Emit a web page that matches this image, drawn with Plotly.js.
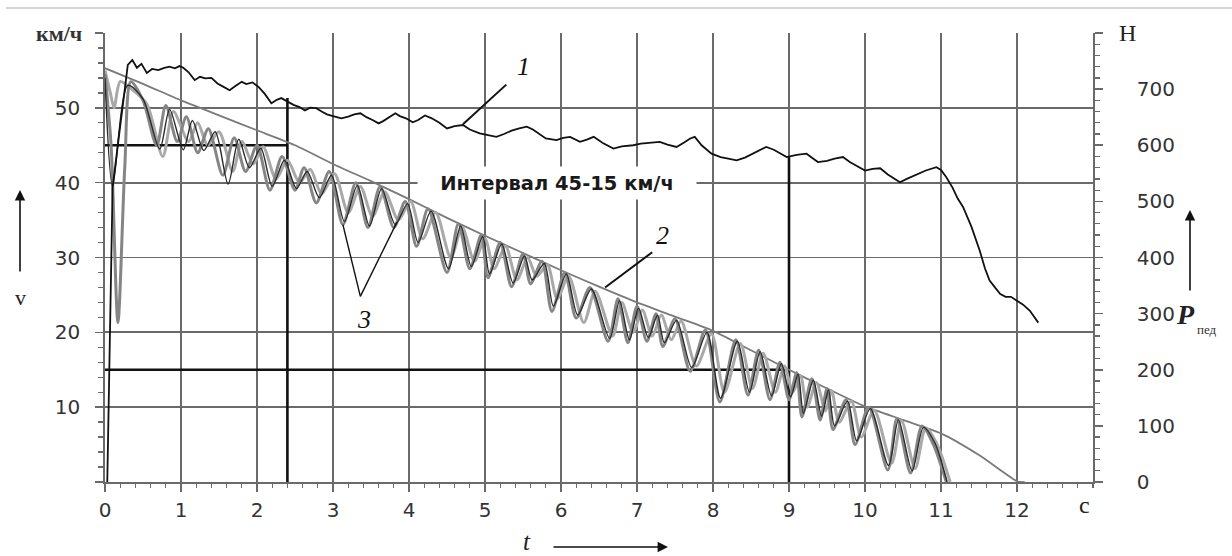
<!DOCTYPE html>
<html>
<head>
<meta charset="utf-8">
<script src="https://cdn.plot.ly/plotly-3.0.1.min.js"></script>
<style>html,body{margin:0;padding:0;background:#fff}#chart{width:1232px;height:556px}</style>
</head>
<body>
<div id="chart"></div>
<script>
// ---------- data ----------
const timeTicks = [0,1,2,3,4,5,6,7,8,9,10,11,12];
const speedTicks = [0,10,20,30,40,50,60];
const speedTickText = ['', '10','20','30','40','50',''];
const forceTicks = [0,100,200,300,400,500,600,700,800];
const forceTickText = ['0','100','200','300','400','500','600','700',''];

// curve 1: pedal force, N  [t, P]
const forceCurve = [[0.03,0],[0.1,525],[0.3,743],[0.36,752],[0.42,738],[0.48,745],[0.55,729],[0.62,736],[0.7,734],[0.78,738],[0.85,740],[0.92,737],[0.98,741],[1.03,738],[1.1,730],[1.18,716],[1.25,722],[1.32,719],[1.4,720],[1.48,710],[1.56,704],[1.64,698],[1.72,706],[1.8,713],[1.86,709],[1.94,712],[2.02,704],[2.1,692],[2.19,675],[2.26,681],[2.32,684],[2.4,678],[2.48,672],[2.56,668],[2.63,662],[2.7,667],[2.78,666],[2.85,660],[2.92,655],[3.0,652],[3.11,648],[3.2,651],[3.28,655],[3.36,657],[3.44,650],[3.52,645],[3.6,639],[3.66,643],[3.74,650],[3.82,657],[3.88,652],[3.96,648],[4.05,641],[4.12,645],[4.21,653],[4.3,648],[4.4,640],[4.5,630],[4.6,634],[4.71,636],[4.8,628],[4.93,621],[5.04,618],[5.15,615],[5.25,620],[5.35,626],[5.45,630],[5.55,633],[5.63,628],[5.72,620],[5.8,612],[5.94,609],[6.03,613],[6.12,615],[6.25,606],[6.34,610],[6.43,615],[6.55,604],[6.69,594],[6.8,598],[6.95,600],[7.05,603],[7.15,604],[7.3,606],[7.4,601],[7.52,597],[7.62,605],[7.7,612],[7.76,615],[7.85,600],[7.98,585],[8.1,579],[8.2,576],[8.31,573],[8.42,578],[8.55,587],[8.7,597],[8.8,592],[8.9,585],[8.97,579],[9.1,583],[9.23,585],[9.38,570],[9.5,572],[9.6,576],[9.71,579],[9.8,570],[9.9,562],[10.0,555],[10.1,558],[10.2,559],[10.3,548],[10.46,534],[10.55,540],[10.65,546],[10.72,550],[10.8,555],[10.94,561],[11.0,556],[11.07,543],[11.15,525],[11.22,505],[11.29,490],[11.4,455],[11.51,412],[11.58,380],[11.64,359],[11.72,345],[11.78,335],[11.85,330],[11.92,330],[12.0,323],[12.08,316],[12.17,305],[12.28,284]];

// curve 2: vehicle speed, km/h  [t, v]
const vehicleSpeed = [[0,55.3],[0.5,53.2],[1,51],[1.5,49],[2,47],[2.5,45],[3,42.5],[3.5,40.2],[4,37.8],[4.5,35.3],[5,32.9],[5.5,30.6],[6,28.3],[6.5,26.1],[7,24],[7.5,22.1],[8,20.2],[8.5,17.6],[9,15],[9.5,12.5],[10,10.1],[10.5,8.3],[11,6.5],[11.5,3.6],[12,0.1],[12.05,0],[12.1,0]];

// curves 3: wheel speeds, km/h  [t, v]
const wheelA = [[0,54.5],[0.08,45],[0.17,21.3],[0.26,42],[0.34,53.5],[0.5,51],[0.68,45],[0.8,50.3],[0.95,45.5],[1.07,48.8],[1.22,44],[1.36,47.2],[1.55,41],[1.7,46],[1.85,41.5],[2.0,45],[2.17,39],[2.33,43.5],[2.5,39],[2.62,42],[2.78,37.3],[2.95,41.5],[3.13,34.4],[3.3,40],[3.46,34],[3.62,39.5],[3.8,34],[3.95,37.5],[4.1,31.5],[4.25,36.5],[4.5,28],[4.65,34.5],[4.8,28.5],[4.95,33],[5.04,27.3],[5.2,32],[5.35,26.1],[5.5,30.5],[5.6,26.5],[5.75,29.5],[5.88,22.8],[6.05,28],[6.2,21.9],[6.38,26],[6.62,18.8],[6.75,24.5],[6.88,18.6],[7.0,23.5],[7.13,18.8],[7.25,22.5],[7.34,18.1],[7.5,21.8],[7.7,14.8],[7.9,20.3],[8.09,10.7],[8.3,19],[8.46,11.6],[8.6,17.6],[8.75,11],[8.88,16],[9.0,11],[9.1,14.6],[9.17,8.7],[9.3,13.8],[9.41,8.3],[9.5,12.5],[9.58,7],[9.75,11],[9.87,5],[10.05,10],[10.3,1.6],[10.42,8.5],[10.6,1.2],[10.75,7.5],[10.9,5],[11.07,0]];
const wheelB = [[0,55],[0.07,52],[0.12,50],[0.2,53.5],[0.35,52.5],[0.55,50.5],[0.76,43.5],[0.9,49.5],[1.1,45.5],[1.22,48],[1.35,45],[1.5,46.8],[1.68,41.5],[1.8,45.5],[1.95,42.5],[2.08,44.8],[2.25,40.5],[2.4,43],[2.56,40],[2.7,41.8],[2.85,38.5],[3.02,41.2],[3.2,36],[3.36,39.5],[3.52,35.5],[3.68,38.8],[3.86,35],[4.02,37.5],[4.18,32.5],[4.35,36],[4.55,30],[4.7,34],[4.86,29.5],[5.0,32.5],[5.12,28.5],[5.27,31.5],[5.42,27],[5.56,30],[5.68,27.5],[5.82,29],[5.95,24.5],[6.1,27.5],[6.3,21.3],[6.45,25.5],[6.68,19.5],[6.8,24],[6.95,20],[7.07,23],[7.2,19.5],[7.32,22.3],[7.45,19],[7.58,21.5],[7.78,15.5],[7.98,19.8],[8.15,12],[8.36,18.5],[8.52,12.5],[8.66,17.2],[8.82,12],[8.94,15.5],[9.05,12],[9.15,14.2],[9.24,10],[9.36,13.3],[9.48,9.5],[9.56,12.2],[9.66,8],[9.82,10.8],[9.95,6],[10.12,9.6],[10.35,2.5],[10.48,8.2],[10.66,1.8],[10.8,7.2],[10.95,5],[11.12,0]];
const wheelC = [[0,54],[0.1,39.5],[0.3,53],[0.5,51.2],[0.72,44.5],[0.85,49.8],[1.03,44.4],[1.15,48.3],[1.3,44.3],[1.45,46.8],[1.62,39.8],[1.76,45.8],[1.9,42],[2.05,44.6],[2.2,39.5],[2.36,43],[2.52,39.2],[2.66,41.5],[2.82,38],[2.98,41],[3.15,34.8],[3.32,39.6],[3.48,34.2],[3.64,39.2],[3.82,34.4],[3.98,37.2],[4.12,32],[4.29,36.2],[4.52,28.5],[4.68,34.2],[4.82,28.8],[4.97,32.8],[5.06,27.8],[5.22,31.8],[5.37,26.6],[5.52,30.2],[5.62,27],[5.78,29.2],[5.9,23.5],[6.07,27.8],[6.22,22.3],[6.4,25.8],[6.64,19.2],[6.77,24.2],[6.9,19],[7.02,23.2],[7.15,19.3],[7.27,22.3],[7.36,18.6],[7.52,21.6],[7.72,15.3],[7.92,20],[8.1,11.2],[8.32,18.8],[8.48,12],[8.62,17.4],[8.77,11.5],[8.9,15.8],[9.02,11.4],[9.12,14.4],[9.19,9.2],[9.32,13.6],[9.43,8.8],[9.52,12.3],[9.6,7.5],[9.77,10.8],[9.89,5.5],[10.07,9.8],[10.31,2.2],[10.44,8.3],[10.62,1.5],[10.77,7.3],[10.92,5.2],[11.08,0]];

// interval markers (45 and 15 km/h) and their times
const intervalSpeeds = [45, 15];
const intervalTimes = [2.4, 9];
const intervalLineTops = [51.3, 43.4];

// ---------- traces ----------
const xs = a => a.map(p => p[0]);
const ys = a => a.map(p => p[1]);
const traces = [];
const refLine = {color:'#111', width:2.6};
for (let i = 0; i < intervalSpeeds.length; i++) {
  traces.push({x:[0, intervalTimes[i]], y:[intervalSpeeds[i], intervalSpeeds[i]], mode:'lines', line:refLine, hoverinfo:'skip'});
  traces.push({x:[intervalTimes[i], intervalTimes[i]], y:[0, intervalLineTops[i]], mode:'lines', line:refLine, hoverinfo:'skip'});
}
traces.push({x:xs(vehicleSpeed), y:ys(vehicleSpeed), mode:'lines', line:{color:'#7a7a7a', width:1.8, shape:'spline', smoothing:0.6}});
traces.push({x:xs(wheelB), y:ys(wheelB), mode:'lines', line:{color:'#a9a9a9', width:3, shape:'spline', smoothing:0.8}});
traces.push({x:xs(wheelA), y:ys(wheelA), mode:'lines', line:{color:'#858585', width:3, shape:'spline', smoothing:0.8}});
traces.push({x:xs(wheelC), y:ys(wheelC), mode:'lines', line:{color:'#2a2a2a', width:1.4, shape:'spline', smoothing:0.8}});
traces.push({x:xs(forceCurve), y:ys(forceCurve), yaxis:'y2', mode:'lines', line:{color:'#111', width:1.8}});

// ---------- layout ----------
const gridC = '#6a6a6a';
const tickFont = {family:'DejaVu Sans, Liberation Sans, sans-serif', size:20, color:'#333'};
const serif = 'Liberation Serif, Times New Roman, serif';
const L = 105, T = 33, W = 988, H = 449;
const px = v => (v - L) / W;
const py = v => (T + H - v) / H;
const label = (x, y, text, size, color) => ({xref:'paper', yref:'paper', x:px(x), y:py(y), xanchor:'center', yanchor:'middle',
  text:text, showarrow:false, font:{family:serif, size:size, color:color || '#222'}});
const arrow = (x, y, ax, ay) => ({xref:'paper', yref:'paper', x:px(x), y:py(y), ax:ax, ay:ay, text:'', showarrow:true,
  arrowhead:2, arrowsize:1.3, arrowwidth:1.6, arrowcolor:'#111'});

const layout = {
  width:1232, height:556,
  margin:{l:105, r:139, t:33, b:74, pad:0},
  paper_bgcolor:'#fff', plot_bgcolor:'#fff',
  showlegend:false,
  xaxis:{range:[0,13], tickvals:timeTicks, ticktext:timeTicks.map(String), showgrid:true, gridcolor:gridC, gridwidth:1.7,
         showline:true, linecolor:gridC, linewidth:1.7, ticks:'outside', ticklen:8, tickwidth:1.6, tickcolor:gridC,
         minor:{dtick:0.2, ticks:'outside', ticklen:4, tickcolor:gridC, tickwidth:1.3, showgrid:false},
         tickfont:tickFont, ticklabelstandoff:1, zeroline:false, fixedrange:true},
  yaxis:{range:[0,60], tickvals:speedTicks, ticktext:speedTickText, showgrid:true, gridcolor:gridC, gridwidth:1.7,
         showline:true, linecolor:gridC, linewidth:1.7, ticks:'outside', ticklen:8, tickwidth:1.6, tickcolor:gridC,
         minor:{dtick:2, ticks:'outside', ticklen:5, tickcolor:gridC, tickwidth:1.3, showgrid:false},
         tickfont:tickFont, ticklabelstandoff:11, zeroline:false, fixedrange:true},
  yaxis2:{range:[0,800], overlaying:'y', side:'right', tickvals:forceTicks, ticktext:forceTickText, showgrid:false,
          showline:true, linecolor:gridC, linewidth:1.7, ticks:'outside', ticklen:8, tickwidth:1.6, tickcolor:gridC,
          minor:{dtick:20, ticks:'outside', ticklen:5, tickcolor:gridC, tickwidth:1.3},
          tickfont:tickFont, ticklabelstandoff:30, zeroline:false, fixedrange:true},
  shapes:[
    {type:'line', xref:'paper', yref:'paper', x0:px(6), x1:px(1232), y0:py(8), y1:py(8), line:{color:'#d6d6d6', width:2}},
    {type:'line', xref:'x', yref:'y', x0:4.71, y0:47.8, x1:5.28, y1:53.1, line:{color:'#111', width:2}},
    {type:'line', xref:'x', yref:'y', x0:6.58, y0:26.0, x1:7.2, y1:30.7, line:{color:'#111', width:2}},
    {type:'line', xref:'x', yref:'y', x0:3.36, y0:24.8, x1:3.13, y1:34.4, line:{color:'#111', width:1.4}},
    {type:'line', xref:'x', yref:'y', x0:3.36, y0:24.8, x1:3.84, y1:34.7, line:{color:'#111', width:1.4}}
  ],
  annotations:[
    {xref:'x', yref:'y', x:5.95, y:40, xanchor:'center', yanchor:'middle', text:'<b>Интервал 45-15 км/ч</b>', showarrow:false,
     font:{family:'DejaVu Sans, Liberation Sans, sans-serif', size:19.5, color:'#1a1a1a'}, bgcolor:'#fff', width:276, height:30},
    label(523, 66, '<i>1</i>', 26, '#111'),
    label(662, 236, '<i>2</i>', 26, '#111'),
    label(364, 319, '<i>3</i>', 26, '#111'),
    label(59, 34, '<b>км/ч</b>', 22, '#333'),
    label(1127, 33, 'Н', 24),
    label(1084, 505, 'c', 24),
    label(20, 297, 'v', 22),
    label(527, 541, '<i>t</i>', 25),
    label(1185, 314, '<b><i>P</i></b>', 28),
    label(1207, 329, 'пед', 13, '#333'),
    // direction arrows
    arrow(20, 190, 0, 83),
    arrow(1190, 210, 0, 82),
    arrow(668, 547, -116, 0)
  ]
};

Plotly.newPlot('chart', traces, layout, {displayModeBar:false, staticPlot:true});
</script>
</body>
</html>
